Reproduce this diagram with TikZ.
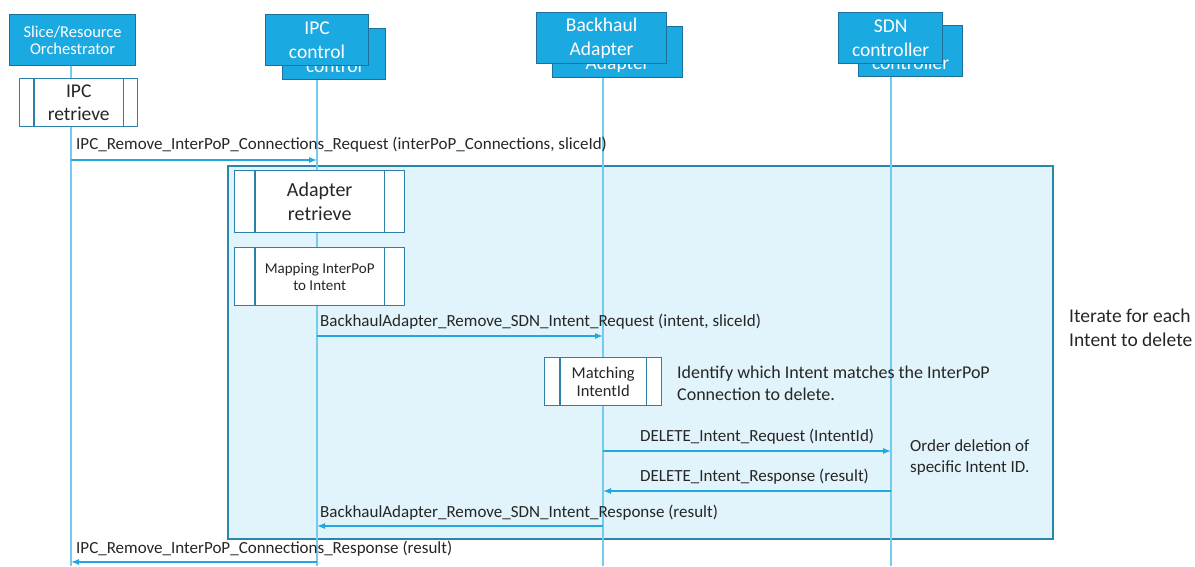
\documentclass[tikz,border=0pt]{standalone}
\usepackage{fontspec}
\setmainfont{Carlito}
\usetikzlibrary{arrows.meta,calc}
\definecolor{hdrfill}{HTML}{1BA9E1}
\definecolor{hdrborder}{HTML}{1F6F9C}
\definecolor{framefill}{HTML}{E1F3FB}
\definecolor{frameborder}{HTML}{2B86AE}
\definecolor{lifec}{HTML}{74CBEE}
\definecolor{arrowc}{HTML}{22A8E0}
\definecolor{actborder}{HTML}{2B7FA8}
\definecolor{textc}{HTML}{262626}
\newcommand{\fsz}[1]{\fontsize{#1}{#1}\selectfont}
\tikzset{
  hdr/.style={draw=hdrborder, fill=hdrfill, line width=1.2pt, text=white, align=center, anchor=north west, inner sep=0pt},
  actbox/.style={draw=actborder, fill=white, line width=1.4pt, align=center, anchor=north west, inner sep=0pt, text=textc},
  inner/.style={draw=actborder, line width=1.4pt},
  life/.style={draw=lifec, line width=1.4pt},
  msg/.style={draw=arrowc, line width=1.2pt, -{Latex[length=8pt,width=6pt]}},
  lbl/.style={anchor=base west, inner sep=0pt, text=textc, font=\fsz{17}},
  note/.style={anchor=base west, inner sep=0pt, text=textc, align=left},
}
\begin{document}
\begin{tikzpicture}[x=1pt,y=-1pt]
\useasboundingbox (0,0) rectangle (1195,566);
% loop frame
\node[draw=frameborder, fill=framefill, line width=2.2pt, anchor=north west, minimum width=825pt, minimum height=373pt, inner sep=0pt] (loop) at (227,165) {};
% lifeline ends
\coordinate (e1) at (71,566);
\coordinate (e2) at (317,566);
\coordinate (e3) at (603,566);
\coordinate (e4) at (891,566);
\coordinate (s1) at (71,60);
\coordinate (s2) at (317,60);
\coordinate (s3) at (603,60);
\coordinate (s4) at (891,60);
\draw[life] (s1) -- (e1);
\draw[life] (s2) -- (e2);
\draw[life] (s3) -- (e3);
\draw[life] (s4) -- (e4);
% headers
\node[hdr, minimum width=126pt, minimum height=51pt, font=\fsz{16.5}] (sro) at (9,14) {Slice/Resource\\[1pt]Orchestrator};
\node[hdr, minimum width=103pt, minimum height=51pt, font=\fsz{19.5}] (ipcb) at (282,28) {IPC\\[5pt]control};
\node[hdr, minimum width=103pt, minimum height=51pt, font=\fsz{19.5}] (ipc) at (265,14) {IPC\\[5pt]control};
\node[hdr, minimum width=130pt, minimum height=51pt, font=\fsz{19.5}] (bhab) at (552,26) {Backhaul\\[4pt]Adapter};
\node[hdr, minimum width=130pt, minimum height=51pt, font=\fsz{19.5}] (bha) at (536,12) {Backhaul\\[4pt]Adapter};
\node[hdr, minimum width=104pt, minimum height=51pt, font=\fsz{19.5}] (sdnb) at (858,25) {SDN\\[4pt]controller};
\node[hdr, minimum width=104pt, minimum height=51pt, font=\fsz{19.5}] (sdn) at (838,12) {SDN\\[4pt]controller};
% activation boxes
\node[actbox, minimum width=118pt, minimum height=48pt, font=\fsz{19.5}] (ipcr) at (19,78) {IPC\\[3pt]retrieve};
\draw[inner] ([xshift=15pt]ipcr.north west) -- ([xshift=15pt]ipcr.south west);
\draw[inner] ([xshift=-15pt]ipcr.north east) -- ([xshift=-15pt]ipcr.south east);
\node[actbox, minimum width=170pt, minimum height=62pt, font=\fsz{20}] (adr) at (234,170) {Adapter\\[4pt]retrieve};
\draw[inner] ([xshift=21pt]adr.north west) -- ([xshift=21pt]adr.south west);
\draw[inner] ([xshift=-21pt]adr.north east) -- ([xshift=-21pt]adr.south east);
\node[actbox, minimum width=170pt, minimum height=58pt, font=\fsz{15}] (map) at (234,247) {Mapping InterPoP\\[2pt]to Intent};
\draw[inner] ([xshift=21pt]map.north west) -- ([xshift=21pt]map.south west);
\draw[inner] ([xshift=-21pt]map.north east) -- ([xshift=-21pt]map.south east);
\node[actbox, minimum width=117pt, minimum height=48pt, font=\fsz{16.5}] (mat) at (544,357) {Matching\\[2pt]IntentId};
\draw[inner] ([xshift=16pt]mat.north west) -- ([xshift=16pt]mat.south west);
\draw[inner] ([xshift=-16pt]mat.north east) -- ([xshift=-16pt]mat.south east);
% messages
\coordinate (m1) at (0,160);
\coordinate (m2) at (0,336);
\coordinate (m3) at (0,451);
\coordinate (m4) at (0,491);
\coordinate (m5) at (0,526);
\coordinate (m6) at (0,562);
\draw[msg] (s1 |- m1) -- (s2 |- m1);
\node[lbl] (l1) at (76,149) {IPC\_Remove\_InterPoP\_Connections\_Request (interPoP\_Connections, sliceId)};
\draw[msg] (s2 |- m2) -- (s3 |- m2);
\node[lbl] (l2) at (320,326) {BackhaulAdapter\_Remove\_SDN\_Intent\_Request (intent, sliceId)};
\draw[msg] (s3 |- m3) -- (s4 |- m3);
\node[lbl] (l3) at (640,441) {DELETE\_Intent\_Request (IntentId)};
\draw[msg] (s4 |- m4) -- (s3 |- m4);
\node[lbl] (l4) at (640,481) {DELETE\_Intent\_Response (result)};
\draw[msg] (s3 |- m5) -- (s2 |- m5);
\node[lbl] (l5) at (320,517) {BackhaulAdapter\_Remove\_SDN\_Intent\_Response (result)};
\draw[msg] (s2 |- m6) -- (s1 |- m6);
\node[lbl] (l6) at (76,553) {IPC\_Remove\_InterPoP\_Connections\_Response (result)};
% notes
\node[note, font=\fsz{18}] (n1) at (677,400) {Identify which Intent matches the InterPoP\\[4pt]Connection to delete.};
\node[note, font=\fsz{17}] (n2) at (910,472) {Order deletion of\\[4pt]specific Intent ID.};
\node[note, font=\fsz{19.5}] (n3) at (1069,346) {Iterate for each\\[4.5pt]Intent to delete};
\end{tikzpicture}
\end{document}
